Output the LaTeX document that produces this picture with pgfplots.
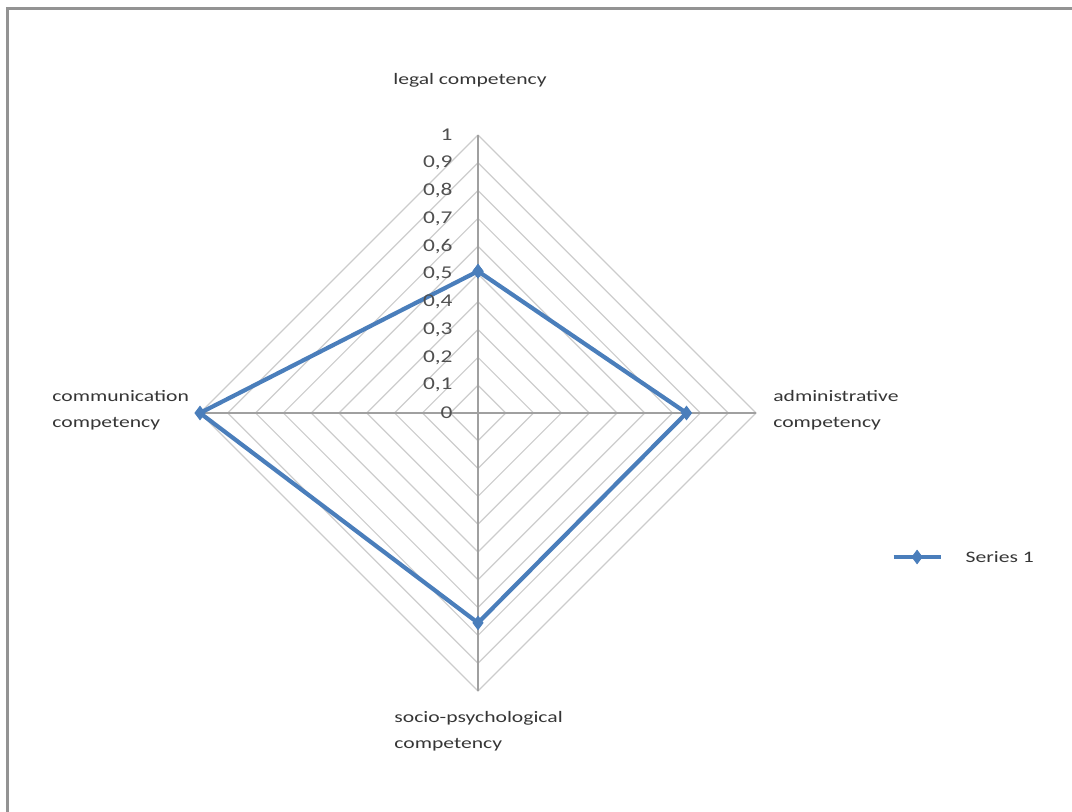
\documentclass[border=0pt]{standalone}
\usepackage{fontspec}
\setmainfont{Carlito}[FakeStretch=1.35]
\newfontfamily\tickfont{Carlito}[FakeStretch=1.3]
\usepackage{pgfplots}
\pgfplotsset{compat=1.18}
\definecolor{serblue}{HTML}{4A7EBB}
\definecolor{gridc}{HTML}{CCCCCC}
\definecolor{spokec}{HTML}{A0A0A0}
\definecolor{txt}{HTML}{363636}
\definecolor{tickc}{HTML}{505050}
\tikzset{tl/.style={anchor=east, inner sep=0pt, text=tickc, font=\tickfont\fontsize{9pt}{10pt}\selectfont}}
\begin{document}
\begin{tikzpicture}
\begin{axis}[
  at={(0,0)}, anchor=origin,
  x=139pt, y=139pt,
  xmin=-1, xmax=1, ymin=-1, ymax=1,
  hide axis, clip=false,
  legend style={at={(axis cs:1.486,-0.518)}, anchor=west, draw=none, fill=none,
    font=\fontsize{8pt}{9.6pt}\selectfont\color{txt}, inner sep=0pt,
    nodes={inner sep=0pt, text depth=0pt}},
  legend cell align=left,
  legend image code/.code={\draw[#1, mark repeat=2, mark phase=2] plot coordinates {(0pt,0pt) (11.75pt,0pt) (23.5pt,0pt)};},
]
\pgfplotsinvokeforeach{0.1,0.2,0.3,0.4,0.5,0.6,0.7,0.8,0.9,1}{
  \addplot[gridc, line width=0.6pt, forget plot] coordinates {(0,#1) (#1,0) (0,-#1) (-#1,0) (0,#1)};
}
\addplot[spokec, line width=0.6pt, forget plot] coordinates {(0,1) (0,-1)};
\addplot[spokec, line width=0.6pt, forget plot] coordinates {(-1,0) (1,0)};
\addplot[serblue, line width=2.1pt, mark=diamond*, mark size=3.3pt, mark options={fill=serblue, draw=serblue, line width=0.5pt}] coordinates {
  (0,0.51) (0.75,0) (0,-0.755) (-1,0) (0,0.51)
};
\addlegendentry{\hspace{11.5pt}Series 1}
\node[tl] at (axis cs:-0.09,0) {0};
\node[tl] at (axis cs:-0.09,0.1) {0,1};
\node[tl] at (axis cs:-0.09,0.2) {0,2};
\node[tl] at (axis cs:-0.09,0.3) {0,3};
\node[tl] at (axis cs:-0.09,0.4) {0,4};
\node[tl] at (axis cs:-0.09,0.5) {0,5};
\node[tl] at (axis cs:-0.09,0.6) {0,6};
\node[tl] at (axis cs:-0.09,0.7) {0,7};
\node[tl] at (axis cs:-0.09,0.8) {0,8};
\node[tl] at (axis cs:-0.09,0.9) {0,9};
\node[tl] at (axis cs:-0.09,1) {1};
\node[text=txt, font=\fontsize{8pt}{9.6pt}\selectfont] at (axis cs:-0.029,1.198) {legal competency};
\node[anchor=west, align=left, inner sep=0pt, text=txt, font=\fontsize{8pt}{13pt}\selectfont] at (axis cs:-1.532,0.011) {communication\\competency};
\node[anchor=west, align=left, inner sep=0pt, text=txt, font=\fontsize{8pt}{13pt}\selectfont] at (axis cs:1.061,0.011) {administrative\\competency};
\node[anchor=west, align=left, inner sep=0pt, text=txt, font=\fontsize{8pt}{13pt}\selectfont] at (axis cs:-0.302,-1.144) {socio-psychological\\competency};
\end{axis}
\pgfresetboundingbox
\path[use as bounding box] (-239pt,-199.5pt) rectangle (297pt,206.5pt);
\draw[gray!85, line width=1.5pt] (-235pt,-199.5pt) -- (-235pt,202pt) -- (297pt,202pt);
\end{tikzpicture}
\end{document}
